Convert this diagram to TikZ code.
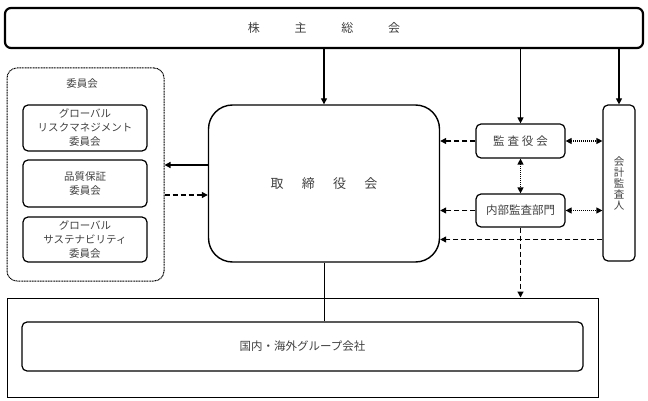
\documentclass[tikz,border=0pt]{standalone}
\usepackage{fontspec}
\setmainfont{Noto Sans CJK JP}
\usetikzlibrary{arrows.meta}

\begin{document}
\begin{tikzpicture}[x=1pt,y=-1pt]
	\tikzstyle{box_top} = [draw, line width=2.2pt, rounded corners=6pt, inner sep=0pt, text=black!75, font=\fontsize{12}{14}\selectfont]
	\tikzstyle{box_board} = [draw, line width=1.4pt, rounded corners=24pt, inner sep=0pt, text=black!75, font=\fontsize{13}{15}\selectfont]
	\tikzstyle{box_small} = [draw, line width=1.2pt, rounded corners=5pt, inner sep=0pt, align=center, text=black!75, font=\fontsize{10.5}{14}\selectfont]
	\tikzstyle{box_group} = [draw, line width=1pt, inner sep=0pt]
	\tikzstyle{arrow_solid} = [line width=1.2pt, -{Triangle[length=6pt,width=6pt]}]
	\tikzstyle{arrow_dashed} = [line width=1.2pt, dash pattern=on 5pt off 3pt, -{Triangle[length=6pt,width=6pt]}]
	\tikzstyle{arrow_dotted} = [line width=1.2pt, dash pattern=on 1pt off 1pt, {Triangle[length=6pt,width=6pt]}-{Triangle[length=6pt,width=6pt]}]

	\useasboundingbox (0,0) rectangle (648,401);

%------------------------------------------------------------
	\node[box_top, minimum width=638pt, minimum height=40pt] (sh) at (324,28) {株\hspace{2.9em}主\hspace{2.9em}総\hspace{2.9em}会};

	\node[box_board, minimum width=231pt, minimum height=157pt] (board) at (324,183.5) {取\hspace{1.4em}締\hspace{1.4em}役\hspace{1.4em}会};

%------------------------------------------------------------

	\node[draw, line width=1pt, dash pattern=on 1pt off 0.6pt, rounded corners=10pt, minimum width=157pt, minimum height=213pt] (iinkai) at (85.5,174.5) {};
	\node[text=black!75, font=\fontsize{10.5}{12}\selectfont] (iinkai_t) at (82,84) {委員会};

	\node[box_small, minimum width=124pt, minimum height=46pt] (c1) at (85,128) {グローバル\\リスクマネジメント\\委員会};
	\node[box_small, minimum width=124pt, minimum height=47pt] (c2) at (85,183.5) {品質保証\\委員会};
	\node[box_small, minimum width=124pt, minimum height=45pt] (c3) at (85,239.5) {グローバル\\サステナビリティ\\委員会};

%------------------------------------------------------------

	\node[box_small, minimum width=89pt, minimum height=34pt, font=\fontsize{11.5}{12}\selectfont] (kansa) at (520.5,141) {監\hspace{0.25em}査\hspace{0.25em}役\hspace{0.25em}会};
	\node[box_small, minimum width=89pt, minimum height=33pt, font=\fontsize{11.5}{12}\selectfont] (naibu) at (520.5,210.5) {内部監査部門};
	\node[box_small, minimum width=32pt, minimum height=156pt, font=\fontsize{10.5}{11}\selectfont] (kaikei) at (619,183) {会\\計\\監\\査\\人};

%------------------------------------------------------------

	\node[box_group, minimum width=591pt, minimum height=99pt] (groupout) at (302.5,347.5) {};
	\node[box_small, minimum width=561pt, minimum height=49pt, font=\fontsize{11.5}{12}\selectfont] (groupin) at (302.5,346.5) {国内・海外グループ会社};

%------------------------------------------------------------

	\draw[arrow_solid] (board.north |- sh.south) -- (board.north);
	\draw[arrow_solid] (kansa.north |- sh.south) -- (kansa.north);
	\draw[arrow_solid] (kaikei.north |- sh.south) -- (kaikei.north);

	\draw[arrow_solid] ([yshift=18.5pt]board.west) -- ([yshift=18.5pt]board.west -| iinkai.east);
	\draw[arrow_dashed] ([yshift=-11.5pt]board.west -| iinkai.east) -- ([yshift=-11.5pt]board.west);

	\draw[arrow_dashed] (kansa.west) -- (kansa.west -| board.east);
	\draw[arrow_dashed] (naibu.west) -- (naibu.west -| board.east);
	\draw[arrow_dashed] ([yshift=-56.5pt]kaikei.west) -- ([yshift=-56.5pt]kaikei.west -| board.east);

	\draw[arrow_dotted] (kansa.east) -- (kansa.east -| kaikei.west);
	\draw[arrow_dotted] (naibu.east) -- (naibu.east -| kaikei.west);
	\draw[arrow_dotted] (kansa.south) -- (naibu.north);

	\draw[arrow_dashed] (naibu.south) -- (naibu.south |- groupout.north);
	\draw[line width=1pt] (board.south) -- (board.south |- groupin.north);

\end{tikzpicture}
\end{document}
